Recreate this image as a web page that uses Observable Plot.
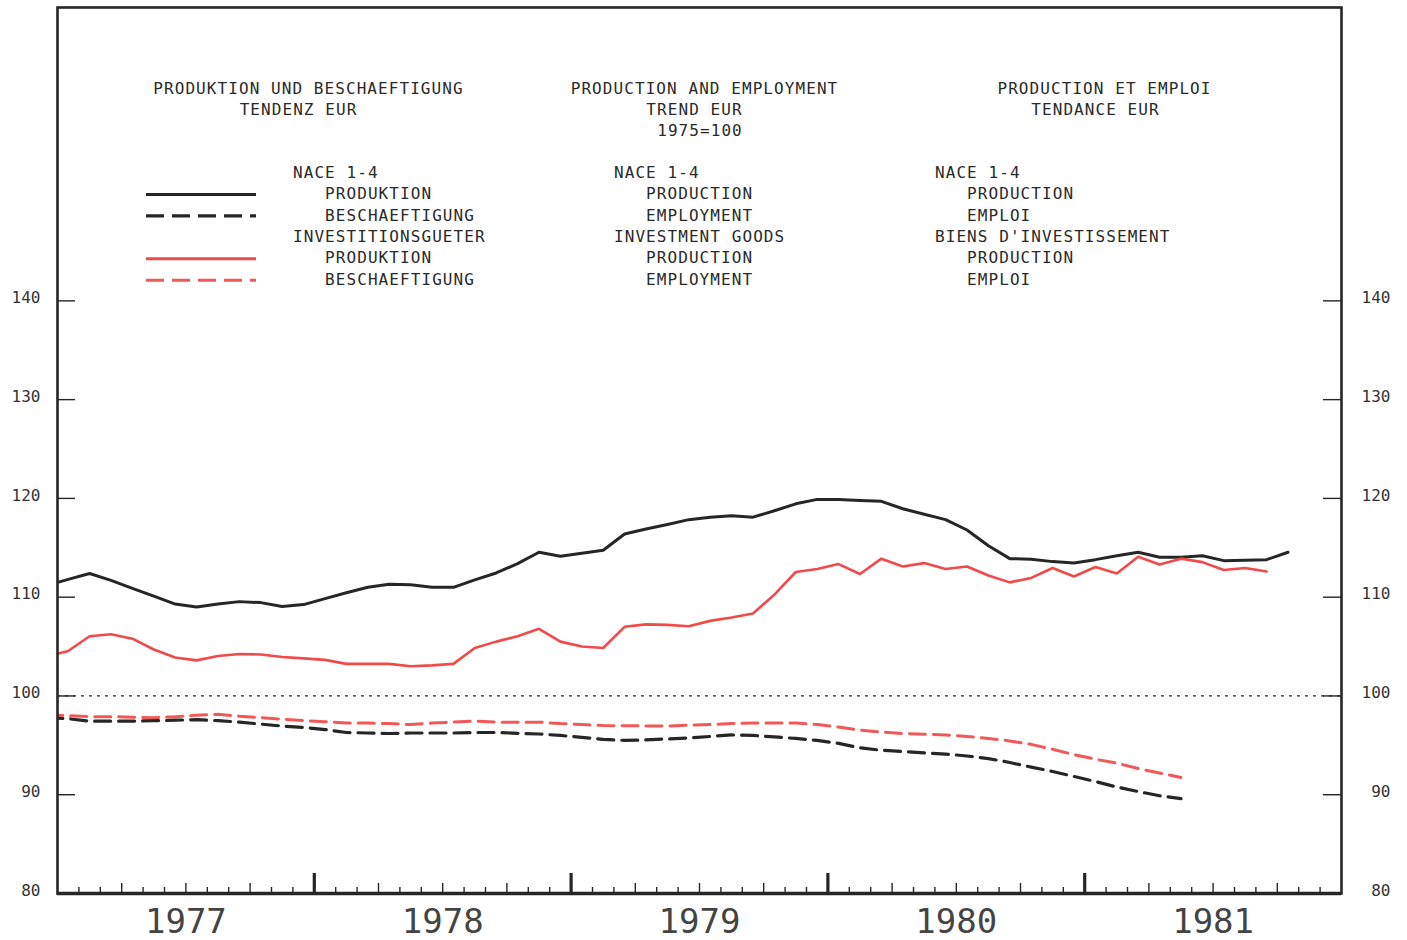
<!DOCTYPE html>
<html><head><meta charset="utf-8">
<script src="https://cdn.jsdelivr.net/npm/d3@7"></script>
<script src="https://cdn.jsdelivr.net/npm/@observablehq/plot@0.6"></script>
<style>
body{margin:0;background:#fff;}
#wrap{position:relative;width:1407px;height:940px;overflow:hidden;background:#fff;}
#wrap svg.chart{position:absolute;left:0;top:0;}
.t{position:absolute;font-family:"DejaVu Sans Mono",monospace;font-size:16px;letter-spacing:1.07px;line-height:21.4px;white-space:pre;color:#2a2a2a;}
.c{transform:translateX(-50%);}
</style></head><body><div id="wrap"></div>
<script>
// ---- data (monthly trend values, 1975=100), first value = December 1976 ----
const firstMonth = {year: 1976, month: 11}; // December 1976 (0-based month)

const prodNace = [111.2,
  111.8, 112.4, 111.7, 110.9, 110.1, 109.3, 109.0, 109.3, 109.55, 109.45, 109.05, 109.25,
  109.85, 110.45, 111.0, 111.3, 111.25, 111.0, 111.0, 111.75, 112.45, 113.4, 114.55, 114.15,
  114.45, 114.75, 116.4, 116.9, 117.35, 117.85, 118.1, 118.25, 118.1, 118.75, 119.45, 119.9,
  119.9, 119.8, 119.7, 118.95, 118.4, 117.85, 116.8, 115.2, 113.9, 113.85, 113.6, 113.45,
  113.8, 114.2, 114.55, 114.05, 114.05, 114.2, 113.7, 113.75, 113.8, 114.55];

const empNace = [97.8,
  97.7, 97.45, 97.45, 97.45, 97.5, 97.55, 97.6, 97.5, 97.35, 97.15, 96.95, 96.8,
  96.6, 96.3, 96.25, 96.2, 96.25, 96.25, 96.25, 96.3, 96.3, 96.22, 96.15, 96.0,
  95.8, 95.6, 95.5, 95.55, 95.65, 95.75, 95.9, 96.05, 96.0, 95.85, 95.7, 95.5,
  95.2, 94.75, 94.5, 94.37, 94.24, 94.12, 93.92, 93.66, 93.26, 92.8, 92.35, 91.85,
  91.34, 90.78, 90.32, 89.9, 89.6];

const prodInv = [104.0,
  104.55, 106.05, 106.25, 105.8, 104.7, 103.9, 103.6, 104.05, 104.25, 104.2, 103.95, 103.8,
  103.65, 103.25, 103.25, 103.25, 103.0, 103.1, 103.25, 104.85, 105.5, 106.05, 106.8, 105.5,
  105.0, 104.85, 107.0, 107.25, 107.2, 107.05, 107.6, 107.95, 108.35, 110.25, 112.55, 112.85,
  113.35, 112.35, 113.9, 113.1, 113.45, 112.85, 113.1, 112.2, 111.5, 111.95, 112.95, 112.1,
  113.05, 112.4, 114.1, 113.3, 113.9, 113.55, 112.75, 112.95, 112.6];

const empInv = [98.1,
  98.0, 97.9, 97.9, 97.85, 97.8, 97.9, 98.05, 98.15, 97.95, 97.8, 97.65, 97.5,
  97.4, 97.25, 97.25, 97.2, 97.1, 97.25, 97.35, 97.45, 97.35, 97.35, 97.35, 97.2,
  97.1, 97.0, 96.98, 96.97, 96.95, 97.05, 97.1, 97.2, 97.25, 97.25, 97.25, 97.1,
  96.85, 96.55, 96.35, 96.2, 96.12, 96.05, 95.9, 95.7, 95.45, 95.1, 94.6, 94.05,
  93.6, 93.2, 92.65, 92.2, 91.75];

const years = [1977, 1978, 1979, 1980, 1981];
const yTicks = [80, 90, 100, 110, 120, 130, 140];

const titleDE = ["PRODUKTION UND BESCHAEFTIGUNG", "TENDENZ EUR"];
const titleEN = ["PRODUCTION AND EMPLOYMENT", "TREND EUR", "1975=100"];
const titleFR = ["PRODUCTION ET EMPLOI", "TENDANCE EUR"];
const legendDE = ["NACE 1-4", "   PRODUKTION", "   BESCHAEFTIGUNG", "INVESTITIONSGUETER", "   PRODUKTION", "   BESCHAEFTIGUNG"];
const legendEN = ["NACE 1-4", "   PRODUCTION", "   EMPLOYMENT", "INVESTMENT GOODS", "   PRODUCTION", "   EMPLOYMENT"];
const legendFR = ["NACE 1-4", "   PRODUCTION", "   EMPLOI", "BIENS D'INVESTISSEMENT", "   PRODUCTION", "   EMPLOI"];

// ---- helpers ----
const toRows = (values) => values.map((v, i) => ({
  x: firstMonth.year + (firstMonth.month + i + 0.5) / 12,
  y: v
}));
const monthTicks = d3.range(0, 60).map(k => 1977 + k / 12);
const monthly = monthTicks.filter((d, k) => k % 3 !== 0);
const quarterly = monthTicks.filter((d, k) => k % 3 === 0 && k % 12 !== 0);
const yearly = [1978, 1979, 1980, 1981];

const W = 1407, H = 940, mL = 57, mR = 66, mT = 7, mB = 47;
const fW = W - mL - mR, fH = H - mT - mB;
const BLACK = "#262626", RED = "#f04a4a", RED2 = "#f25858";
const MONO = "DejaVu Sans Mono, monospace";

const chart = Plot.plot({
  width: W, height: H,
  marginLeft: mL, marginRight: mR, marginTop: mT, marginBottom: mB,
  x: {type: "linear", domain: [1977, 1982], axis: null},
  y: {type: "linear", domain: [80, 169.7], axis: null},
  style: {background: "#fff"},
  marks: [
    Plot.ruleY([100], {stroke: BLACK, strokeWidth: 1.2, strokeDasharray: "3,5"}),
    // inner y ticks on both sides
    Plot.tickY(yTicks.filter(v => v > 80), {y: d => d, stroke: BLACK, strokeWidth: 1.4, insetRight: fW - 18}),
    Plot.tickY(yTicks.filter(v => v > 80), {y: d => d, stroke: BLACK, strokeWidth: 1.4, insetLeft: fW - 18}),
    // x ticks (month, quarter, year)
    Plot.tickX(monthly, {x: d => d, stroke: BLACK, strokeWidth: 1.4, insetTop: fH - 6}),
    Plot.tickX(quarterly, {x: d => d, stroke: BLACK, strokeWidth: 1.4, insetTop: fH - 10}),
    Plot.tickX(yearly, {x: d => d, stroke: BLACK, strokeWidth: 3.2, insetTop: fH - 20}),
    // series
    Plot.line(toRows(empNace), {x: "x", y: "y", stroke: BLACK, strokeWidth: 3.2, strokeDasharray: "16,8", clip: true}),
    Plot.line(toRows(empInv), {x: "x", y: "y", stroke: RED2, strokeWidth: 3, strokeDasharray: "16,8", clip: true}),
    Plot.line(toRows(prodNace), {x: "x", y: "y", stroke: BLACK, strokeWidth: 3, clip: true}),
    Plot.line(toRows(prodInv), {x: "x", y: "y", stroke: RED, strokeWidth: 2.6, clip: true}),
    // y labels both sides
    Plot.text(yTicks, {y: d => d, text: d => String(d), frameAnchor: "left", dx: -17, dy: -3, textAnchor: "end", fontSize: 16, fontFamily: MONO, fill: "#333"}),
    Plot.text(yTicks, {y: d => d, text: d => String(d), frameAnchor: "right", dx: 49, dy: -3, textAnchor: "end", fontSize: 16, fontFamily: MONO, fill: "#333"}),
    // year labels
    Plot.text(years, {x: d => d + 0.5, text: d => String(d), frameAnchor: "bottom", dy: 39, fontSize: 34, fontFamily: MONO, fill: "#444"}),
    Plot.frame({stroke: BLACK, strokeWidth: 2.6}),
    Plot.ruleY([80], {stroke: BLACK, strokeWidth: 3.4})
  ]
});
chart.classList.add("chart");
const wrap = document.getElementById("wrap");
wrap.appendChild(chart);

// ---- header texts (HTML overlay) ----
function addLine(text, left, top, center) {
  const d = document.createElement("div");
  d.className = "t" + (center ? " c" : "");
  d.style.left = left + "px";
  d.style.top = top + "px";
  d.textContent = text;
  wrap.appendChild(d);
}
const titleCenters = [[titleDE, [308.5, 298.5]], [titleEN, [704.5, 694.5, 700]], [titleFR, [1104.5, 1095.5]]];
titleCenters.forEach(([lines, centers]) => lines.forEach((s, i) => addLine(s, centers[i], 77.6 + i * 21.2, true)));
[[legendDE, 293], [legendEN, 614], [legendFR, 935]].forEach(([lines, left]) =>
  lines.forEach((s, i) => addLine(s, left, 161.6 + i * 21.45, false)));

// legend swatches
const sw = d3.create("svg").attr("width", 130).attr("height", 110)
  .style("position", "absolute").style("left", "140px").style("top", "180px");
const swatches = [
  {row: 1, stroke: BLACK, dash: null, w: 3},
  {row: 2, stroke: BLACK, dash: "18,8", w: 3.2},
  {row: 4, stroke: RED, dash: null, w: 3},
  {row: 5, stroke: RED2, dash: "18,8", w: 3}
];
sw.selectAll("line").data(swatches).join("line")
  .attr("x1", 6).attr("x2", 116)
  .attr("y1", d => 172 + d.row * 21.45 + 1 - 180).attr("y2", d => 172 + d.row * 21.45 + 1 - 180)
  .attr("stroke", d => d.stroke).attr("stroke-width", d => d.w)
  .attr("stroke-dasharray", d => d.dash);
wrap.appendChild(sw.node());
</script></body></html>
